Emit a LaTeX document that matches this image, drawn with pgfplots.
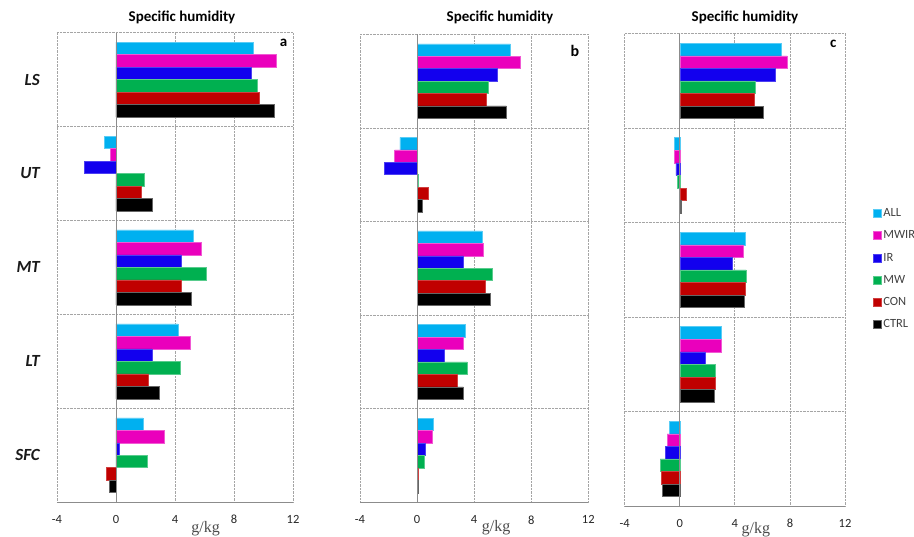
\documentclass[border=0pt]{standalone}
\usepackage{fontspec}
\setmainfont{Carlito}
\newfontfamily\serifgk{Liberation Serif}
\usepackage{pgfplots}
\usepackage{pgfplotstable}
\pgfplotsset{compat=1.18}

\definecolor{cALL}{RGB}{0,176,240}
\definecolor{cMWIR}{RGB}{234,0,188}
\definecolor{cIR}{RGB}{18,0,238}
\definecolor{cMW}{RGB}{0,176,80}
\definecolor{cCON}{RGB}{192,0,0}
\definecolor{cCTRL}{RGB}{0,0,0}
\definecolor{gridc}{RGB}{165,165,165}
\definecolor{axc}{RGB}{140,140,140}

% rows: 0=SFC 1=LT 2=MT 3=UT 4=LS
\pgfplotstableread{
y ALL MWIR IR MW CON CTRL
0 1.82 3.26 0.22 2.13 -0.63 -0.47
1 4.20 5.01 2.43 4.34 2.22 2.90
2 5.26 5.78 4.40 6.11 4.40 5.12
3 -0.81 -0.40 -2.13 1.89 1.73 2.43
4 9.28 10.88 9.15 9.55 9.69 10.76
}\tabA
\pgfplotstableread{
y ALL MWIR IR MW CON CTRL
0 1.10 1.03 0.56 0.49 0.07 0.10
1 3.36 3.25 1.87 3.50 2.83 3.25
2 4.56 4.63 3.25 5.26 4.81 5.16
3 -1.21 -1.57 -2.31 0.08 0.77 0.35
4 6.54 7.24 5.63 5.02 4.88 6.26
}\tabB
\pgfplotstableread{
y ALL MWIR IR MW CON CTRL
0 -0.73 -0.92 -1.02 -1.43 -1.36 -1.28
1 2.98 2.98 1.84 2.59 2.61 2.52
2 4.75 4.62 3.83 4.82 4.75 4.67
3 -0.39 -0.39 -0.29 -0.15 0.48 0.12
4 7.38 7.80 6.95 5.45 5.38 6.03
}\tabC

\pgfplotsset{
 panel/.style={
  scale only axis, xbar, bar width=0.133,
  xmin=-4, xmax=12, ymin=-0.5, ymax=4.5,
  xtick={-4,0,4,8,12}, xticklabels={-4,0,4,8,12},
  xticklabel style={font=\fontsize{12.5}{14}\selectfont, text=black!85, anchor=north, inner sep=0pt, yshift=-13pt},
  major tick length=0pt, minor tick length=0pt,
  xmajorgrids, major grid style={densely dotted, gridc, line width=0.8pt},
  ytick={0,1,2,3,4},
  minor ytick={0.5,1.5,2.5,3.5,4.5},
  yminorgrids, minor grid style={densely dotted, gridc, line width=0.8pt},
  axis line style={draw=none},
  legend image code/.code={\fill[##1] (0pt,-4pt) rectangle (8pt,4pt);},
 },
 sALL/.style={fill=cALL, draw=cALL!65!white, line width=0.5pt, bar shift=0.3325},
 sMWIR/.style={fill=cMWIR, draw=cMWIR!65!white, line width=0.5pt, bar shift=0.1995},
 sIR/.style={fill=cIR, draw=cIR!75!white, line width=0.5pt, bar shift=0.0665},
 sMW/.style={fill=cMW, draw=cMW!65!white, line width=0.5pt, bar shift=-0.0665},
 sCON/.style={fill=cCON, draw=cCON!75!white, line width=0.5pt, bar shift=-0.1995},
 sCTRL/.style={fill=cCTRL, draw=black!60, line width=0.5pt, bar shift=-0.3325},
}

\newcommand{\bars}[1]{%
  \addplot[sALL] table[x=ALL,y=y] {#1};
  \addplot[sMWIR] table[x=MWIR,y=y] {#1};
  \addplot[sIR] table[x=IR,y=y] {#1};
  \addplot[sMW] table[x=MW,y=y] {#1};
  \addplot[sCON] table[x=CON,y=y] {#1};
  \addplot[sCTRL] table[x=CTRL,y=y] {#1};
  \draw[axc, line width=0.9pt] (axis cs:0,-0.5) -- (axis cs:0,4.5);
  \draw[axc, line width=0.9pt] (rel axis cs:0,0) -- (rel axis cs:1,0);
}

\begin{document}
\begin{tikzpicture}
\path[use as bounding box] (0pt,0pt) rectangle (914pt,-537pt);

% panel a
\begin{axis}[panel, at={(57pt,-502.2pt)}, anchor=south west, width=236pt, height=469.5pt,
  yticklabels={SFC,LT,MT,UT,LS},
  yticklabel style={font=\fontsize{17}{20}\selectfont\bfseries\itshape, text=black!90, anchor=east, inner sep=0pt, xshift=-17pt},
  xlabel={g/kg}, xlabel style={font=\serifgk\fontsize{16}{18}\selectfont, text=black!70, at={(axis description cs:0.63,0)}, anchor=base, inner sep=0pt, yshift=-30pt}]
\bars{\tabA}
\end{axis}

% panel b
\begin{axis}[panel, at={(360pt,-502.3pt)}, anchor=south west, width=228.3pt, height=468pt,
  yticklabels={},
  xlabel={g/kg}, xlabel style={font=\serifgk\fontsize{16}{18}\selectfont, text=black!70, at={(axis description cs:0.596,0)}, anchor=base, inner sep=0pt, yshift=-29pt}]
\bars{\tabB}
\end{axis}

% panel c
\begin{axis}[panel, at={(624.7pt,-506.2pt)}, anchor=south west, width=220.3pt, height=472.5pt,
  yticklabels={},
  xlabel={g/kg}, xlabel style={font=\serifgk\fontsize{16}{18}\selectfont, text=black!70, at={(axis description cs:0.595,0)}, anchor=base, inner sep=0pt, yshift=-27pt},
  legend style={at={(axis description cs:1,0.631)}, anchor=north west, xshift=27.7pt, draw=none, fill=none, inner sep=0pt,
    font=\fontsize{12.5}{14}\selectfont, text=black!75, row sep=11.6pt, nodes={inner xsep=2pt, inner ysep=0.5pt}},
  legend cell align=left]
\bars{\tabC}
\legend{ALL,MWIR,IR,MW,CON,CTRL}
\end{axis}

% titles
\foreach \cx in {182,500,745}{
  \node[font=\fontsize{15}{18}\selectfont\bfseries, anchor=base, inner sep=0pt] at (\cx pt,-21.7pt) {Specific humidity};
}
\node[font=\fontsize{15}{18}\selectfont\bfseries, inner sep=0pt] at (283.7pt,-43.3pt) {a};
\node[font=\fontsize{16}{18}\selectfont\bfseries, inner sep=0pt] at (575pt,-51pt) {b};
\node[font=\fontsize{15}{18}\selectfont\bfseries, inner sep=0pt] at (833.3pt,-44.3pt) {c};
\end{tikzpicture}
\end{document}
